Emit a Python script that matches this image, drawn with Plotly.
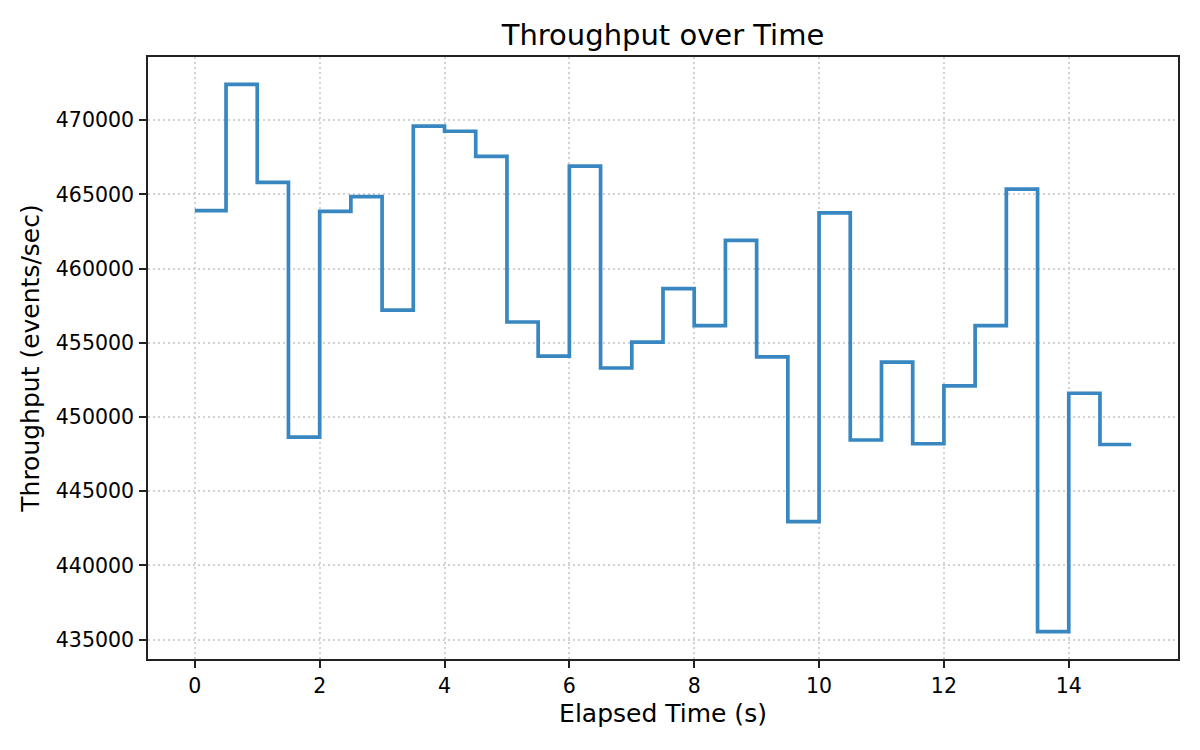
import plotly.graph_objects as go

# elapsed time (s) and measured throughput (events/sec), step "post"
times = [0.0, 0.5, 1.0, 1.5, 2.0, 2.5, 3.0, 3.5, 4.0, 4.5,
         5.0, 5.5, 6.0, 6.5, 7.0, 7.5, 8.0, 8.5, 9.0, 9.5,
         10.0, 10.5, 11.0, 11.5, 12.0, 12.5, 13.0, 13.5, 14.0, 14.5, 15.0]
throughput = [463900, 472400, 465800, 448650, 463850, 464850, 457200, 469600, 469250, 467550,
              456400, 454100, 466900, 453300, 455050, 458650, 456150, 461900, 454050, 442950,
              463750, 448450, 453700, 448200, 452100, 456150, 465350, 435550, 451600, 448150, 448150]

FONT = "DejaVu Sans"
LINE_COLOR = "#3987c0"

fig = go.Figure()
fig.add_trace(go.Scatter(
    x=times, y=throughput,
    mode="lines", line=dict(color=LINE_COLOR, width=3.7, shape="hv"),
    showlegend=False
))

axis_common = dict(
    showline=True, linecolor="#222222", linewidth=1.6, mirror=True,
    ticks="outside", ticklen=7, tickwidth=1.5, tickcolor="#222222",
    showgrid=True, gridcolor="#d2d2d2", gridwidth=1.5, griddash="2px,3px",
    zeroline=False,
    tickfont=dict(family=FONT, size=20.5, color="black"),
)

# the page body adds an 8px offset, so the figure is 8px smaller than the window
fig.update_layout(
    width=1192, height=742,
    margin=dict(l=140, r=22, t=49, b=91),
    paper_bgcolor="white", plot_bgcolor="white",
    font=dict(family=FONT, color="black"),
    title=dict(text="Throughput over Time", x=0.5, xanchor="center", xref="paper",
               y=1 - 27 / 742, yanchor="middle", yref="container",
               font=dict(family=FONT, size=29, color="black")),
    xaxis=dict(range=[-0.75, 15.75], tick0=0, dtick=2,
               title=dict(text="Elapsed Time (s)", standoff=7,
                          font=dict(family=FONT, size=25, color="black")),
               ticklabelstandoff=1, **axis_common),
    yaxis=dict(range=[433700, 474250], tick0=435000, dtick=5000, tickformat="d",
               title=dict(text="Throughput (events/sec)", standoff=9,
                          font=dict(family=FONT, size=25, color="black")),
               ticklabelstandoff=1, **axis_common),
)

fig.write_html("out.html")
